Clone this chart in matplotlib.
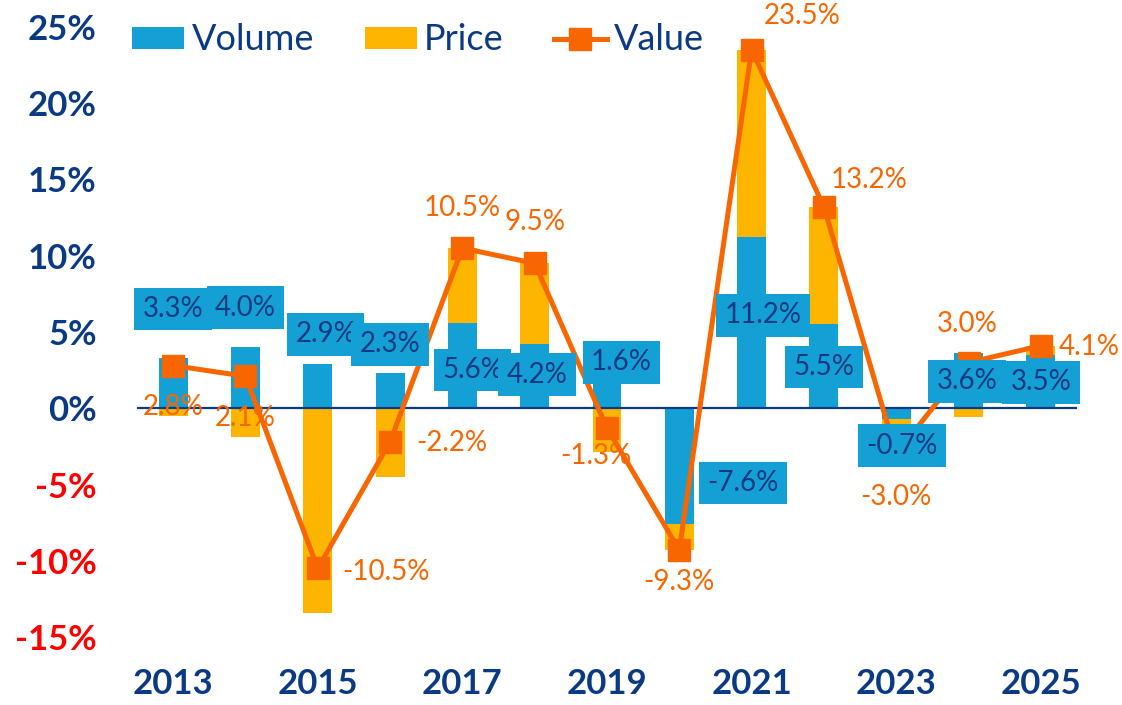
import numpy as np
import matplotlib.pyplot as plt

# Données (%)
annees = [2013, 2014, 2015, 2016, 2017, 2018, 2019, 2020, 2021, 2022, 2023, 2024, 2025]
volume = [3.3, 4.0, 2.9, 2.3, 5.6, 4.2, 1.6, -7.6, 11.2, 5.5, -0.7, 3.6, 3.5]
prix = [-0.5, -1.9, -13.4, -4.5, 4.9, 5.3, -2.9, -1.7, 12.3, 7.7, -2.3, -0.6, 0.6]
valeur = [2.8, 2.1, -10.5, -2.2, 10.5, 9.5, -1.3, -9.3, 23.5, 13.2, -3.0, 3.0, 4.1]

# Positions des étiquettes (décalages en x années, y en points de %)
pos_vol = [(0.0, 6.5), (0.0, 6.6), (0.11, 4.85), (0.0, 4.2), (0.14, 2.5), (0.03, 2.2),
           (0.2, 3.0), (0.88, -4.9), (0.16, 6.1), (0.0, 2.7), (0.08, -2.46), (-0.02, 1.77),
           (0.0, 1.7)]
pos_val = [(0.0, 0.07), (0.0, -0.66), (0.95, -10.75), (0.86, -2.3), (0.0, 13.1), (0.0, 12.2),
           (-0.16, -3.15), (0.0, -11.4), (0.7, 25.7), (0.63, 14.95), (0.0, -5.84),
           (-0.02, 5.5), (0.67, 4.0)]

bleu = '#14A0D4'
jaune = '#FDB500'
orange = '#F76600'
marine = '#0B3A84'
rouge = '#FF0000'

plt.rcParams['font.family'] = ['Lato', 'DejaVu Sans']

fig = plt.figure(figsize=(11.22, 7.05), dpi=100)
ax = fig.add_axes([137 / 1122, 1 - 637 / 705, 940 / 1122, 610 / 705])

x = np.array(annees)
vol = np.array(volume)
pr = np.array(prix)
base_prix = np.where(np.sign(pr) == np.sign(vol), vol, 0)

b1 = ax.bar(x, vol, width=0.4, color=bleu, label='Volume', zorder=2)
b2 = ax.bar(x, pr, bottom=base_prix, width=0.4, color=jaune, label='Price', zorder=2)
ax.axhline(0, color=marine, lw=1.6, zorder=3)
l1, = ax.plot(x, valeur, color=orange, lw=3.6, marker='s', markersize=16, label='Value', zorder=4)

for i, a in enumerate(annees):
    dx, y = pos_vol[i]
    ax.text(a + dx, y, f'{volume[i]:.1f}%', ha='center', va='center', fontsize=20,
            color=marine, zorder=6,
            bbox=dict(boxstyle='square,pad=0.3', fc=bleu, ec='none'))
    dx, y = pos_val[i]
    ax.text(a + dx, y, f'{valeur[i]:.1f}%', ha='center', va='center', fontsize=20,
            color=orange, zorder=7, clip_on=False)

ax.set_xlim(2012.5, 2025.5)
ax.set_ylim(-15, 25)
ax.set_xticks(annees[::2])
ax.set_xticklabels([str(a) for a in annees[::2]], fontsize=25, fontweight='bold', color=marine)
yt = np.arange(-15, 26, 5)
ax.set_yticks(yt)
ax.set_yticklabels([f'{v}%' for v in yt], fontsize=25, fontweight='bold')
for lab, v in zip(ax.get_yticklabels(), yt):
    lab.set_color(rouge if v < 0 else marine)
ax.tick_params(axis='x', length=0, pad=22)
ax.tick_params(axis='y', length=0, pad=29)
for s in ax.spines.values():
    s.set_visible(False)

leg = ax.legend([b1, b2, l1], ['Volume', 'Price', 'Value'], loc='center left',
                bbox_to_anchor=(132 / 1122, 1 - 40 / 705),
                bbox_transform=fig.transFigure, ncol=3, frameon=False, fontsize=26,
                handlelength=1.45, handleheight=0.55, handletextpad=0.2,
                columnspacing=1.4, borderaxespad=0, borderpad=0)
for t in leg.get_texts():
    t.set_color(marine)

fig.savefig('out.png', dpi=100)
